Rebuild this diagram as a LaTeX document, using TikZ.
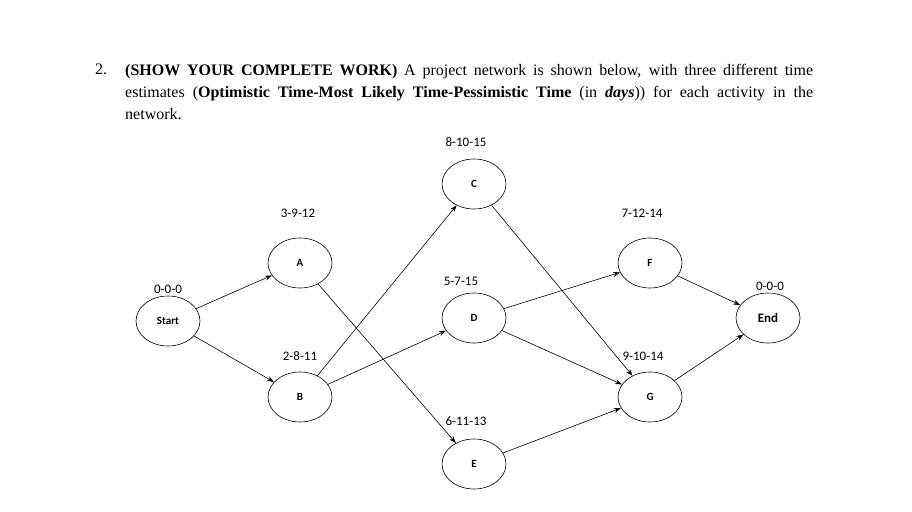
\documentclass[tikz,border=0pt]{standalone}
\usepackage{fontspec}
\setmainfont{Liberation Serif}
\newfontfamily\lab{Carlito}
\usetikzlibrary{arrows.meta,shapes.geometric}
\begin{document}
\begin{tikzpicture}[x=1pt,y=-1pt,
  ev/.style={ellipse,draw,line width=0.6pt,minimum width=64pt,minimum height=50pt,inner sep=0pt,font=\lab\bfseries\fontsize{11}{13}\selectfont},
  tl/.style={font=\lab\fontsize{13}{15}\selectfont,inner sep=0pt},
  ar/.style={-{Stealth[length=7pt,width=5pt]},line width=0.6pt}]
\useasboundingbox (0,0) rectangle (912,511);
\node[anchor=north west,inner sep=0pt] (num) at (95,64) {\fontsize{16}{22}\selectfont 2.};
\node[anchor=north west,inner sep=0pt,text width=688pt,align=justify] (hdr) at (125,64) {\fontsize{16}{22}\selectfont\textbf{(SHOW YOUR COMPLETE WORK)} A project network is shown below, with three different time\linebreak estimates (\textbf{Optimistic Time-Most Likely Time-Pessimistic Time} (in \textbf{\textit{days}})) for each activity in the\linebreak network.\par};
\node[ev] (S) at (168,321) {Start};
\node[ev] (A) at (300,263) {A};
\node[ev] (B) at (300,397) {B};
\node[ev] (C) at (474,184) {C};
\node[ev] (D) at (474,318) {D};
\node[ev] (E) at (474,464) {E};
\node[ev] (F) at (650,263) {F};
\node[ev] (G) at (650,397) {G};
\node[ev,font=\lab\bfseries\fontsize{13}{15}\selectfont] (N) at (768,318) {End};
\node[tl] (tS) at (168,289) {0-0-0};
\node[tl] (tA) at (298,213) {3-9-12};
\node[tl] (tB) at (300,356) {2-8-11};
\node[tl] (tC) at (466,142) {8-10-15};
\node[tl] (tD) at (461,281) {5-7-15};
\node[tl] (tE) at (466,421) {6-11-13};
\node[tl] (tF) at (642,213) {7-12-14};
\node[tl] (tG) at (643,356) {9-10-14};
\node[tl] (tN) at (770,286) {0-0-0};
\draw[ar] (S) -- (A);
\draw[ar] (S) -- (B);
\draw[ar] (A) -- (E);
\draw[ar] (B) -- (C);
\draw[ar] (B) -- (D);
\draw[ar] (C) -- (G);
\draw[ar] (D) -- (F);
\draw[ar] (D) -- (G);
\draw[ar] (E) -- (G);
\draw[ar] (F) -- (N);
\draw[ar] (G) -- (N);
\end{tikzpicture}
\end{document}
